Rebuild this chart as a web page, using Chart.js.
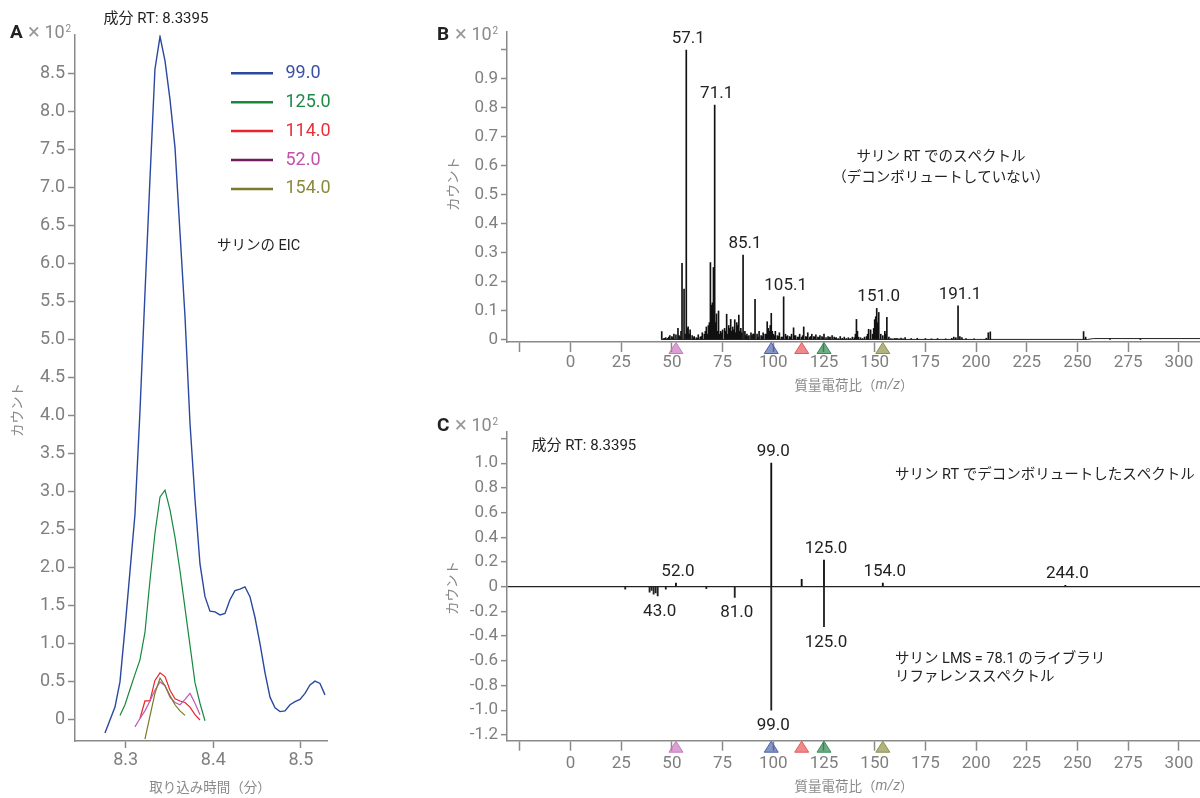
<!DOCTYPE html>
<html lang="ja">
<head>
<meta charset="utf-8">
<script src="https://cdn.jsdelivr.net/npm/chart.js@4.4.1/dist/chart.umd.min.js"></script>
<style>
  html, body { margin: 0; padding: 0; background: #fff; }
  #wrap { position: relative; width: 1200px; height: 798px; overflow: hidden; background: #fff; }
  canvas { position: absolute; }
  #eic { left: 0; top: 0; }
  #raw { left: 430px; top: 0; }
  #comp { left: 430px; top: 400px; }
</style>
</head>
<body>
<div id="wrap">
  <canvas id="eic" width="345" height="798"></canvas>
  <canvas id="raw" width="770" height="400"></canvas>
  <canvas id="comp" width="770" height="398"></canvas>
</div>
<script>
const FONT = "Roboto, 'Noto Sans CJK JP', sans-serif";
const JP = "'Noto Sans CJK JP', Roboto, sans-serif";
Chart.defaults.font.family = FONT;
Chart.defaults.animation = false;

// ---- A : EIC (x10^2 counts vs retention time) ----
const eicTime = [8.2764, 8.2821, 8.2878, 8.2935, 8.2992, 8.3049, 8.3106, 8.3163, 8.3220, 8.3277,
  8.3334, 8.3392, 8.3449, 8.3506, 8.3563, 8.3620, 8.3677, 8.3734, 8.3791, 8.3848,
  8.3905, 8.3962, 8.4019, 8.4076, 8.4133, 8.4190, 8.4247, 8.4304, 8.4361, 8.4418,
  8.4475, 8.4533, 8.4590, 8.4647, 8.4704, 8.4761, 8.4818, 8.4875, 8.4932, 8.4989,
  8.5046, 8.5103, 8.5160, 8.5217, 8.5274];
const eic99 = [-0.17, 0.0, 0.17, 0.5, 1.2, 1.95, 2.7, 4.05, 5.6, 7.1,
  8.55, 8.98, 8.66, 8.15, 7.52, 6.4, 5.3, 3.9, 2.9, 2.05,
  1.62, 1.43, 1.42, 1.38, 1.40, 1.58, 1.70, 1.72, 1.75, 1.62,
  1.35, 1.0, 0.62, 0.3, 0.16, 0.11, 0.12, 0.2, 0.24, 0.27,
  0.35, 0.46, 0.51, 0.48, 0.33];
const eic125 = [null, null, null, 0.06, 0.2, 0.4, 0.6, 0.79, 1.15, 1.83,
  2.45, 2.93, 3.02, 2.76, 2.4, 1.96, 1.47, 0.98, 0.49, 0.22, -0.01];
const eic114 = [null, null, null, null, null, null, null, 0.02, 0.25, 0.25,
  0.52, 0.62, 0.57, 0.39, 0.28, 0.25, 0.23, 0.17, 0.07, 0.0];
const eic52 = [null, null, null, null, null, null, -0.09, 0.02, 0.12, 0.25,
  0.39, 0.5, 0.45, 0.3, 0.23, 0.2, 0.27, 0.35, 0.22, 0.07];
const eic154 = [null, null, null, null, null, null, null, null, -0.25, 0.05,
  0.35, 0.55, 0.45, 0.32, 0.2, 0.12, 0.06];

const eicNames = ['99.0', '125.0', '114.0', '52.0', '154.0'];
const eicSeries = [eic99, eic125, eic114, eic52, eic154];
const eicColors = ['#2b48a0', '#17893f', '#e8242a', '#c257b6', '#7b7828'];
const legendLineColors = ['#2b48a0', '#17893f', '#e8242a', '#6e1c5e', '#7b7828'];
const legendTextColors = ['#3a51a6', '#1f8a47', '#e8323a', '#c052a8', '#8a8a3c'];
const eicYTicks = [0, 0.5, 1.0, 1.5, 2.0, 2.5, 3.0, 3.5, 4.0, 4.5, 5.0, 5.5, 6.0, 6.5, 7.0, 7.5, 8.0, 8.5];
const eicXTicks = [8.3, 8.4, 8.5];

// ---- B : raw spectrum at sarin RT (x10^2 counts) ----
const rawMz = [45, 46, 47, 48, 49, 50, 51, 52, 53, 54,
  55, 56, 57.1, 58, 59, 60, 61, 62, 63, 64,
  65, 66, 67, 68, 69, 70, 71.1, 72, 73, 74,
  75, 76, 77, 78, 79, 80, 81, 82, 83, 84,
  85.1, 86, 87, 88, 89, 90, 91, 92, 93, 94,
  95, 96, 97, 98, 99, 100, 101, 102, 103, 104,
  105.1, 106, 107, 108, 109, 110, 111, 112, 113, 114,
  115, 116, 117, 118, 119, 120, 121, 122, 123, 124,
  125, 126, 127, 128, 129, 130, 131, 132, 133, 134,
  135, 136, 137, 138, 139, 140, 141, 142, 143, 144,
  145, 146, 147, 148, 149, 150, 151.0, 152, 153, 154,
  155, 156, 157, 158, 159, 160, 161, 162, 163, 164,
  165, 168, 171, 175, 178, 181, 185, 188, 189, 190,
  191.1, 192, 193, 195, 199, 205, 206, 207, 253, 254,
  266, 281,
  46.5, 48.5, 50.5, 53.5, 54.5, 56.5, 57.5, 58.5, 60.5, 62.5,
  64.5, 66.5, 67.5, 68.5, 69.5, 70.5, 71.5, 72.5, 73.5, 74.5,
  76.5, 77.5, 78.5, 79.5, 80.5, 81.5, 82.5, 83.5, 84.5, 86.5,
  87.5, 89.5, 90.5, 92.5, 94.5, 96.5, 97.5, 98.5, 99.5, 100.5,
  102.5, 104.5, 106.5, 108.5, 110.5, 112.5, 114.5, 116.5, 118.5, 120.5,
  122.5, 124.5, 127.5, 130.5, 140.5, 141.5, 146.5, 149.5, 150.5, 151.5,
  155.5];
const rawInt = [0.029, 0.005, 0.008, 0.006, 0.015, 0.012, 0.02, 0.018, 0.04, 0.012,
  0.264, 0.176, 1.0, 0.045, 0.035, 0.015, 0.012, 0.008, 0.018, 0.01,
  0.025, 0.02, 0.045, 0.05, 0.267, 0.128, 0.81, 0.09, 0.1, 0.03,
  0.035, 0.04, 0.089, 0.05, 0.071, 0.045, 0.07, 0.06, 0.086, 0.04,
  0.293, 0.03, 0.02, 0.015, 0.025, 0.02, 0.14, 0.02, 0.03, 0.015,
  0.025, 0.02, 0.063, 0.03, 0.092, 0.02, 0.03, 0.015, 0.025, 0.01,
  0.149, 0.02, 0.015, 0.012, 0.02, 0.042, 0.015, 0.01, 0.02, 0.01,
  0.045, 0.012, 0.025, 0.01, 0.02, 0.012, 0.018, 0.01, 0.015, 0.012,
  0.02, 0.008, 0.012, 0.01, 0.015, 0.01, 0.008, 0.005, 0.012, 0.006,
  0.01, 0.005, 0.008, 0.005, 0.01, 0.008, 0.071, 0.01, 0.008, 0.005,
  0.01, 0.012, 0.037, 0.035, 0.02, 0.07, 0.109, 0.095, 0.02, 0.015,
  0.03, 0.078, 0.01, 0.005, 0.004, 0.006, 0.006, 0.004, 0.007, 0.004,
  0.008, 0.005, 0.006, 0.005, 0.004, 0.005, 0.004, 0.006, 0.01, 0.008,
  0.118, 0.012, 0.008, 0.005, 0.004, 0.006, 0.025, 0.028, 0.029, 0.01,
  0.006, 0.005,
  0.006, 0.01, 0.008, 0.015, 0.03, 0.02, 0.04, 0.02, 0.008, 0.006,
  0.012, 0.03, 0.02, 0.06, 0.12, 0.25, 0.06, 0.03, 0.02, 0.025,
  0.03, 0.02, 0.04, 0.03, 0.035, 0.025, 0.05, 0.03, 0.025, 0.015,
  0.012, 0.015, 0.02, 0.01, 0.012, 0.02, 0.04, 0.05, 0.03, 0.015,
  0.012, 0.01, 0.012, 0.01, 0.015, 0.01, 0.015, 0.01, 0.012, 0.01,
  0.008, 0.008, 0.008, 0.006, 0.02, 0.03, 0.02, 0.04, 0.08, 0.06,
  0.02];
const rawBaseMz = [45, 200, 255, 258, 312];
const rawBaseInt = [0.002, 0.002, 0.002, 0.005, 0.005];
const rawLabels = ['57.1', '71.1', '85.1', '105.1', '151.0', '191.1'];

// ---- C : deconvoluted spectrum (up) vs library (down) ----
const deconvMz = [52.0, 99.0, 114.0, 125.0, 154.0, 244.0];
const deconvInt = [0.03, 1.0, 0.06, 0.216, 0.03, 0.012];
const libMz = [27, 39, 40, 41, 42, 43, 47, 67, 81, 99.0, 125.0];
const libInt = [-0.02, -0.045, -0.03, -0.06, -0.05, -0.075, -0.02, -0.015, -0.086, -1.0, -0.324];
const deconvLabels = ['52.0', '99.0', '125.0', '154.0', '244.0'];
const libLabels = ['43.0', '81.0', '99.0', '125.0'];

const mzTicks = [-25, 0, 25, 50, 75, 100, 125, 150, 175, 200, 225, 250, 275, 300];
const rawYTicks = [0, 0.1, 0.2, 0.3, 0.4, 0.5, 0.6, 0.7, 0.8, 0.9, 1.0];
const compYTicks = [-1.2, -1.0, -0.8, -0.6, -0.4, -0.2, 0, 0.2, 0.4, 0.6, 0.8, 1.0, 1.2];

// ion markers under the m/z axis
const markerMz = [52, 99, 114, 125, 154];
const markerFill = ['rgba(195,95,180,0.6)', 'rgba(52,78,163,0.6)', 'rgba(230,60,60,0.6)', 'rgba(15,120,50,0.6)', 'rgba(128,130,38,0.6)'];
const markerStroke = ['#c77bbd', '#4d62a8', '#e35a5a', '#3a8c58', '#8f8f4f'];

// ---------- helpers ----------
function text(ctx, s, x, y, font, color, align, base) {
  ctx.save();
  ctx.font = font;
  ctx.fillStyle = color || '#222';
  ctx.textAlign = align || 'left';
  ctx.textBaseline = base || 'middle';
  ctx.fillText(s, x, y);
  ctx.restore();
}

function vtext(ctx, s, x, y) {
  ctx.save();
  ctx.translate(x, y);
  ctx.rotate(-Math.PI / 2);
  text(ctx, s, 0, 0, '13.5px ' + JP, '#8a8a8a', 'center', 'middle');
  ctx.restore();
}

function mult(ctx, letter, x, y) {
  text(ctx, letter, x, y, 'bold 19px ' + FONT, '#222');
  text(ctx, '×', x + 18, y, '22px ' + FONT, '#999');
  text(ctx, '10', x + 34.5, y, '18px ' + FONT, '#8a8a8a');
  text(ctx, '2', x + 55.5, y - 4, '10px ' + FONT, '#8a8a8a');
}

function mzTitle(ctx, cx, y) {
  const a = '質量電荷比（', b = 'm/z', c = '）';
  ctx.save();
  ctx.font = '13.5px ' + JP;
  const wa = ctx.measureText(a).width, wc = ctx.measureText(c).width;
  ctx.font = 'italic 14px ' + FONT;
  const wb = ctx.measureText(b).width;
  ctx.restore();
  let x0 = cx - (wa + wb + wc) / 2;
  text(ctx, a, x0, y, '13.5px ' + JP, '#8a8a8a');
  text(ctx, b, x0 + wa, y, 'italic 14px ' + FONT, '#8a8a8a');
  text(ctx, c, x0 + wa + wb, y, '13.5px ' + JP, '#8a8a8a');
}

function peakLabels(chart, labels, mzArr, valArr, dir) {
  const xs = chart.scales.x, ys = chart.scales.y, ctx = chart.ctx;
  labels.forEach(t => {
    const m = parseFloat(t);
    let v = 0;
    mzArr.forEach((mz, i) => {
      if (Math.abs(mz - m) <= 0.3 && Math.abs(valArr[i]) > Math.abs(v)) v = valArr[i];
    });
    const px = xs.getPixelForValue(m) + 2;
    const py = ys.getPixelForValue(v);
    text(ctx, t, px, dir > 0 ? py - 7 : py + 20, '17px ' + FONT, '#222', 'center', 'alphabetic');
  });
}

function markers(chart) {
  const ctx = chart.ctx, xs = chart.scales.x, y0 = chart.chartArea.bottom + 0.5;
  markerMz.forEach((m, i) => {
    const px = xs.getPixelForValue(m);
    ctx.save();
    ctx.beginPath();
    ctx.moveTo(px, y0);
    ctx.lineTo(px + 7, y0 + 11);
    ctx.lineTo(px - 7, y0 + 11);
    ctx.closePath();
    ctx.fillStyle = markerFill[i];
    ctx.fill();
    ctx.strokeStyle = markerStroke[i];
    ctx.lineWidth = 1;
    ctx.stroke();
    ctx.restore();
  });
}

function axis(tickLen, pad, size) {
  return {
    border: { display: true, color: '#8a8a8a', width: 1.5 },
    grid: { drawOnChartArea: false, drawTicks: true, tickLength: tickLen, tickColor: '#8a8a8a', tickWidth: 1.5, offset: false },
    ticks: { color: '#7f7f7f', font: { size: size }, padding: pad, autoSkip: false, maxRotation: 0, minRotation: 0 }
  };
}

function withTicks(base, values, fmt) {
  base.afterBuildTicks = s => { s.ticks = values.map(v => ({ value: v })); };
  base.ticks.callback = fmt;
  return base;
}

const oneDec = v => (Math.abs(v) < 1e-9 ? '0' : v.toFixed(1));

// ---------- A ----------
const eicDatasets = eicSeries.map((vals, i) => ({
  label: eicNames[i],
  data: eicTime.map((t, k) => ({ x: t, y: vals[k] })).filter(p => p.y !== null && p.y !== undefined),
  borderColor: eicColors[i],
  borderWidth: i === 0 ? 1.4 : 1.2,
  pointRadius: 0,
  tension: 0,
  fill: false
}));

const eicX = withTicks(axis(7, 2, 18), eicXTicks, v => v.toFixed(1));
Object.assign(eicX, { type: 'linear', min: 8.2422, max: 8.5297, bounds: 'data', afterFit: s => { s.height = 57; } });
const eicY = withTicks(axis(7, 3, 18), eicYTicks, oneDec);
Object.assign(eicY, { type: 'linear', min: -0.276, max: 9.0, bounds: 'data', afterFit: s => { s.width = 75; } });

new Chart(document.getElementById('eic'), {
  type: 'line',
  data: { datasets: eicDatasets.slice().reverse() },
  options: {
    responsive: false,
    layout: { padding: { top: 35, right: 18, left: 0, bottom: 0 } },
    plugins: { legend: { display: false }, tooltip: { enabled: false } },
    scales: { x: eicX, y: eicY }
  },
  plugins: [{
    id: 'eicText',
    afterDraw(chart) {
      const ctx = chart.ctx;
      mult(ctx, 'A', 10, 33);
      text(ctx, '成分 RT: 8.3395', 156, 19.5, '15px ' + FONT, '#222', 'center');
      text(ctx, 'サリンの EIC', 217, 246.5, '14.5px ' + FONT, '#222');
      vtext(ctx, 'カウント', 17, 410);
      text(ctx, '取り込み時間（分）', 210, 787, '13.5px ' + JP, '#8a8a8a', 'center');
      eicNames.forEach((n, i) => {
        const y = 73.3 + i * 28.9;
        ctx.save();
        ctx.strokeStyle = legendLineColors[i];
        ctx.lineWidth = 2.5;
        ctx.beginPath();
        ctx.moveTo(231, y);
        ctx.lineTo(273, y);
        ctx.stroke();
        ctx.restore();
        text(ctx, n, 285.5, y, '18px ' + FONT, legendTextColors[i]);
      });
    }
  }]
});

// ---------- B ----------
const rawX = withTicks(axis(10, 1, 17), mzTicks, v => (v < 0 ? '' : String(v)));
Object.assign(rawX, { type: 'linear', min: -31.3, max: 310.4, offset: false, bounds: 'data', afterFit: s => { s.height = 58; } });
const rawY = withTicks(axis(6, 3, 17), rawYTicks, v => (v > 0.95 ? '' : oneDec(v)));
Object.assign(rawY, { type: 'linear', min: -0.0069, max: 1.062, bounds: 'data', afterFit: s => { s.width = 77; } });

new Chart(document.getElementById('raw'), {
  type: 'bar',
  data: {
    datasets: [{
      type: 'line',
      data: rawBaseMz.map((m, i) => ({ x: m, y: rawBaseInt[i] })),
      borderColor: '#222',
      borderWidth: 1,
      pointRadius: 0
    }, {
      data: rawMz.map((m, i) => ({ x: m, y: rawInt[i] })),
      backgroundColor: '#111',
      borderWidth: 0,
      barThickness: 1,
      grouped: false
    }]
  },
  options: {
    responsive: false,
    layout: { padding: { top: 32, right: 0, left: 0, bottom: 0 } },
    plugins: { legend: { display: false }, tooltip: { enabled: false } },
    scales: { x: rawX, y: rawY }
  },
  plugins: [{
    id: 'rawText',
    afterDraw(chart) {
      const ctx = chart.ctx;
      mult(ctx, 'B', 7, 35);
      peakLabels(chart, rawLabels, rawMz, rawInt, 1);
      text(ctx, 'サリン RT でのスペクトル', 511, 157, '14.5px ' + FONT, '#222', 'center');
      text(ctx, '（デコンボリュートしていない）', 511, 178, '14.5px ' + FONT, '#222', 'center');
      vtext(ctx, 'カウント', 23, 184);
      mzTitle(ctx, 424, 385);
      markers(chart);
    }
  }]
});

// ---------- C ----------
const compX = withTicks(axis(10, 3, 17), mzTicks, v => (v < 0 ? '' : String(v)));
Object.assign(compX, { type: 'linear', min: -31.3, max: 310.4, offset: false, bounds: 'data', afterFit: s => { s.height = 57.3; } });
const compY = withTicks(axis(6, 3, 17), compYTicks, v => (v > 1.1 ? '' : oneDec(v)));
Object.assign(compY, { type: 'linear', min: -1.247, max: 1.255, bounds: 'data', afterFit: s => { s.width = 77; } });
compY.grid = Object.assign({}, compY.grid, {
  drawOnChartArea: true,
  color: c => (c.tick && Math.abs(c.tick.value) < 1e-9 ? '#222' : 'rgba(0,0,0,0)'),
  lineWidth: 1.3
});

new Chart(document.getElementById('comp'), {
  type: 'bar',
  data: {
    datasets: [{
      data: deconvMz.map((m, i) => ({ x: m, y: deconvInt[i] })),
      backgroundColor: '#111',
      borderWidth: 0,
      barThickness: 1.2,
      grouped: false
    }, {
      data: libMz.map((m, i) => ({ x: m, y: libInt[i] })),
      backgroundColor: '#222',
      borderWidth: 0,
      barThickness: 1.2,
      grouped: false
    }]
  },
  options: {
    responsive: false,
    layout: { padding: { top: 31.7, right: 0, left: 0, bottom: 0 } },
    plugins: { legend: { display: false }, tooltip: { enabled: false } },
    scales: { x: compX, y: compY }
  },
  plugins: [{
    id: 'compText',
    afterDraw(chart) {
      const ctx = chart.ctx;
      mult(ctx, 'C', 7, 26.7);
      text(ctx, '成分 RT: 8.3395', 101.5, 46, '15px ' + FONT, '#222');
      peakLabels(chart, deconvLabels, deconvMz, deconvInt, 1);
      peakLabels(chart, libLabels, libMz, libInt, -1);
      text(ctx, 'サリン RT でデコンボリュートしたスペクトル', 465, 75, '14.5px ' + FONT, '#222');
      text(ctx, 'サリン LMS = 78.1 のライブラリ', 465, 259.5, '14.5px ' + FONT, '#222');
      text(ctx, 'リファレンススペクトル', 465, 277, '14.5px ' + FONT, '#222');
      vtext(ctx, 'カウント', 22, 188);
      mzTitle(ctx, 424, 386);
      markers(chart);
    }
  }]
});
</script>
</body>
</html>
